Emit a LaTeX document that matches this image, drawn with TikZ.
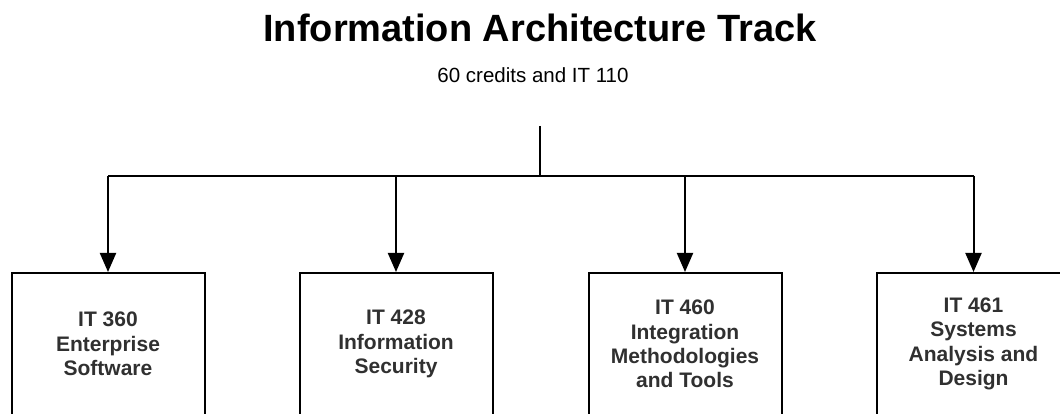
\documentclass[tikz,border=0pt]{standalone}
\usepackage{fontspec}
\setmainfont{Liberation Sans}
\usetikzlibrary{arrows.meta}
\definecolor{boxtext}{HTML}{303030}
\tikzset{
  wire/.style={line width=2pt, black},
  arrowwire/.style={wire, -{Triangle[width=16pt,length=19pt]}},
  frame/.style={draw=black, line width=2pt, minimum width=193pt, minimum height=150pt,
    anchor=north, inner sep=0pt},
  coursetext/.style={align=center, text=boxtext, inner sep=0pt,
    font={\fontsize{21}{24.3}\selectfont\bfseries}},
}
\begin{document}
\begin{tikzpicture}[x=1pt,y=1pt]
  \useasboundingbox (0,0) rectangle (1060,414);
  \clip (0,0) rectangle (1060,414);
  \fill[white] (0,0) rectangle (1060,414);

  % heading
  \node[anchor=base] (title) at (540,372) {\fontsize{38}{42}\selectfont\bfseries Information Architecture Track};
  \node[anchor=base] (sub) at (533,331) {\fontsize{20.5}{22}\selectfont 60 credits and IT 110};

  % course boxes (the frames run past the lower edge)
  \node[frame] (c360) at (108,142) {};
  \node[frame] (c428) at (396,142) {};
  \node[frame] (c460) at (685,142) {};
  \node[frame] (c461) at (973.5,142) {};

  % course titles
  \node[coursetext] (t360) at (108,70) {IT 360\\Enterprise\\Software};
  \node[coursetext] (t428) at (396,70) {IT 428\\Information\\Security};
  \node[coursetext] (t460) at (685,70) {IT 460\\Integration\\Methodologies\\and Tools};
  \node[coursetext] (t461) at (973.5,70) {IT 461\\Systems\\Analysis and\\Design};

  % distribution tree
  \coordinate (stem) at (540,288);
  \coordinate (hub) at (540,238);
  \draw[wire] (stem) -- (hub);
  \draw[wire] (c360.north |- hub) -- (c461.north |- hub);
  \foreach \c in {c360,c428,c460,c461}
    \draw[arrowwire] (\c.north |- hub) -- (\c.north);
\end{tikzpicture}
\end{document}
